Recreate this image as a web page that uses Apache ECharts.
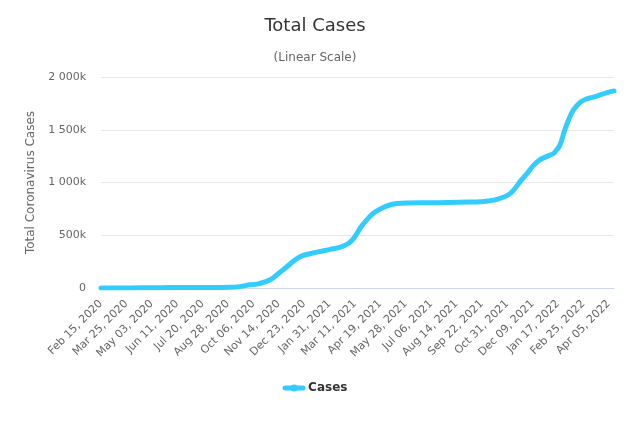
<!DOCTYPE html>
<html>
<head>
<meta charset="utf-8">
<script src="https://cdn.jsdelivr.net/npm/echarts@6/dist/echarts.min.js"></script>
<style>html,body{margin:0;padding:0;background:#fff}#c{width:630px;height:423px}</style>
</head>
<body>
<div id="c"></div>
<script>
// Category axis: one category per day, from the first to the last date of the chart
var firstDate = '2020-02-15';
var lastDate = '2022-04-13';
var labelStep = 39; // a label every 39 days

// Values (total cases), at sample dates
var sampleDates = [
  '2020-02-15','2020-03-15','2020-04-15','2020-05-15','2020-06-15','2020-07-15','2020-08-15',
  '2020-09-01','2020-09-15','2020-10-01','2020-10-15','2020-11-01','2020-11-14','2020-11-20',
  '2020-12-01','2020-12-11','2020-12-20','2021-01-01','2021-01-15','2021-02-01','2021-02-15',
  '2021-03-01','2021-03-10','2021-03-20','2021-04-01','2021-04-10','2021-04-20','2021-05-01',
  '2021-05-15','2021-06-01','2021-07-01','2021-08-01','2021-09-01','2021-09-20','2021-10-01',
  '2021-10-15','2021-11-01','2021-11-10','2021-11-20','2021-12-01','2021-12-10','2021-12-20',
  '2022-01-01','2022-01-10','2022-01-15','2022-01-20','2022-01-27','2022-02-02','2022-02-10',
  '2022-02-20','2022-03-01','2022-03-15','2022-04-01','2022-04-13'
];
var sampleCases = [
  0, 30, 1600, 3400, 4100, 4300, 4800,
  6300, 13000, 30000, 42000, 78000, 140000, 168000,
  225000, 275000, 305000, 325000, 345000, 366000, 385000,
  422000, 478000, 575000, 665000, 715000, 752000, 782000,
  800000, 806000, 808000, 810000, 814000, 818000, 825000,
  840000, 880000, 930000, 1010000, 1090000, 1160000, 1215000,
  1250000, 1275000, 1310000, 1355000, 1490000, 1590000, 1690000,
  1760000, 1790000, 1815000, 1850000, 1868000
];
var seriesName = 'Cases';
var yTicks = [0, 500000, 1000000, 1500000, 2000000];

var MONTHS = ['Jan','Feb','Mar','Apr','May','Jun','Jul','Aug','Sep','Oct','Nov','Dec'];
function parseDay(s){ var p = s.split('-'); return Date.UTC(+p[0], +p[1]-1, +p[2]); }
function fmt(t){
  var d = new Date(t);
  var dd = d.getUTCDate();
  return MONTHS[d.getUTCMonth()] + ' ' + (dd < 10 ? '0' + dd : dd) + ', ' + d.getUTCFullYear();
}
var DAY = 86400000;
var t0 = parseDay(firstDate), t1 = parseDay(lastDate);
var categories = [];
for (var t = t0; t <= t1; t += DAY) categories.push(fmt(t));

var data = sampleDates.map(function(s, i){
  return [Math.round((parseDay(s) - t0) / DAY), sampleCases[i]];
});

function kfmt(v){
  if (v === 0) return '0';
  var k = Math.round(v / 1000);
  var s = String(k);
  if (k >= 1000) s = s.slice(0, s.length - 3) + ' ' + s.slice(s.length - 3);
  return s + 'k';
}

var FONT = 'DejaVu Sans';
var chart = echarts.init(document.getElementById('c'), null, {renderer: 'canvas'});
chart.setOption({
  animation: false,
  backgroundColor: '#ffffff',
  textStyle: {fontFamily: FONT},
  title: [
    {text: 'Total Cases', left: 'center', top: 12,
     textStyle: {fontFamily: FONT, fontSize: 18, fontWeight: 'normal', color: '#333333'}},
    {text: '(Linear Scale)', left: 'center', top: 47,
     textStyle: {fontFamily: FONT, fontSize: 12, fontWeight: 'normal', color: '#666666'}}
  ],
  legend: {
    data: [seriesName], bottom: 24, left: 'center',
    itemWidth: 18, itemHeight: 9, itemGap: 10,
    lineStyle: {width: 5, cap: 'round'},
    itemStyle: {borderWidth: 0},
    textStyle: {fontFamily: FONT, fontSize: 12, fontWeight: 'bold', color: '#333333'}
  },
  grid: {left: 101, right: 16, top: 77, bottom: 135, containLabel: false},
  xAxis: {
    type: 'category', data: categories, boundaryGap: false,
    axisLine: {lineStyle: {color: '#ccd6eb', width: 1}},
    axisTick: {show: false},
    axisLabel: {interval: labelStep - 1, rotate: 45, margin: 14,
      fontFamily: FONT, fontSize: 11, color: '#666666'},
    splitLine: {show: false}
  },
  yAxis: {
    type: 'value', min: yTicks[0], max: yTicks[yTicks.length - 1], interval: yTicks[1] - yTicks[0],
    name: 'Total Coronavirus Cases', nameLocation: 'middle', nameGap: 64,
    nameTextStyle: {fontFamily: FONT, fontSize: 12, color: '#666666'},
    axisLine: {show: false}, axisTick: {show: false},
    axisLabel: {formatter: kfmt, margin: 15, fontFamily: FONT, fontSize: 11, color: '#666666'},
    splitLine: {lineStyle: {color: '#e6e6e6', width: 1}}
  },
  series: [{
    name: seriesName, type: 'line', data: data,
    showSymbol: false, symbol: 'circle', symbolSize: 8,
    smooth: 0.4,
    lineStyle: {color: '#33ccff', width: 5, cap: 'round', join: 'round'},
    itemStyle: {color: '#33ccff'}
  }]
});
</script>
</body>
</html>
